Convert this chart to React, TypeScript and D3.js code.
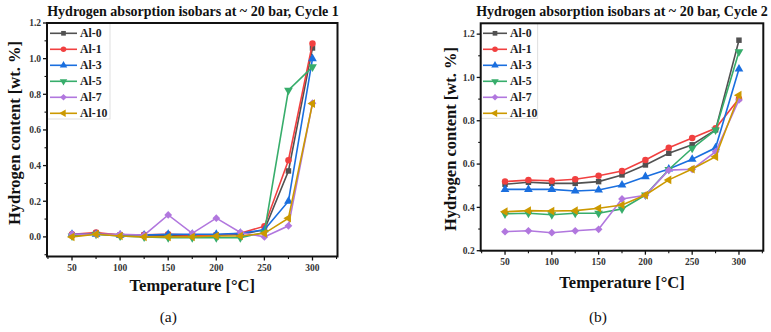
import React from "react";
import * as d3 from "d3";

// Temperatures of the isobar measurements (°C)
const temperatures = [50, 75, 100, 125, 150, 175, 200, 225, 250, 275, 300];

const seriesNames = ["Al-0", "Al-1", "Al-3", "Al-5", "Al-7", "Al-10"];
const seriesColors = ["#515151", "#F14040", "#1A6FDF", "#37AD6B", "#B177DE", "#CC9900"];

// Cycle 1 hydrogen content (wt. %)
const cycle1Al0 = [0.01, 0.02, 0.01, 0.01, 0.01, 0.01, 0.01, 0.015, 0.04, 0.37, 1.06];
const cycle1Al1 = [0.015, 0.025, 0.01, 0.012, 0.015, 0.01, 0.01, 0.02, 0.06, 0.43, 1.085];
const cycle1Al3 = [0.015, 0.015, 0.01, 0.01, 0.015, 0.015, 0.015, 0.02, 0.04, 0.2, 1.0];
const cycle1Al5 = [0.005, 0.015, 0.005, 0.0, -0.005, -0.005, -0.005, -0.005, 0.025, 0.823, 0.954];
const cycle1Al7 = [0.015, 0.015, 0.015, 0.01, 0.123, 0.02, 0.105, 0.025, 0.0, 0.062, 0.75];
const cycle1Al10 = [0.0, 0.015, 0.005, 0.0, 0.0, 0.0, 0.005, 0.005, 0.02, 0.105, 0.748];

// Cycle 2 hydrogen content (wt. %)
const cycle2Al0 = [0.507, 0.516, 0.511, 0.511, 0.519, 0.55, 0.596, 0.65, 0.689, 0.758, 1.172];
const cycle2Al1 = [0.519, 0.526, 0.523, 0.53, 0.546, 0.568, 0.619, 0.675, 0.72, 0.765, 0.902];
const cycle2Al3 = [0.483, 0.483, 0.483, 0.476, 0.48, 0.503, 0.542, 0.577, 0.622, 0.675, 1.039];
const cycle2Al5 = [0.37, 0.373, 0.366, 0.373, 0.373, 0.393, 0.457, 0.575, 0.673, 0.757, 1.119];
const cycle2Al7 = [0.288, 0.292, 0.283, 0.292, 0.299, 0.439, 0.456, 0.572, 0.576, 0.657, 0.896];
const cycle2Al10 = [0.38, 0.385, 0.383, 0.385, 0.396, 0.411, 0.457, 0.527, 0.577, 0.634, 0.918];

const cycle1 = [cycle1Al0, cycle1Al1, cycle1Al3, cycle1Al5, cycle1Al7, cycle1Al10];
const cycle2 = [cycle2Al0, cycle2Al1, cycle2Al3, cycle2Al5, cycle2Al7, cycle2Al10];

const xMajorTicks = [50, 100, 150, 200, 250, 300];
const xMinorTicks = [25, 75, 125, 175, 225, 275, 325];
const cycle1YTicks = [0.0, 0.2, 0.4, 0.6, 0.8, 1.0, 1.2];
const cycle1YMinor = [-0.1, 0.1, 0.3, 0.5, 0.7, 0.9, 1.1];
const cycle2YTicks = [0.2, 0.4, 0.6, 0.8, 1.0, 1.2];
const cycle2YMinor = [0.3, 0.5, 0.7, 0.9, 1.1];

const SERIF = "'Liberation Serif', 'DejaVu Serif', serif";

// marker shapes: square, circle, up, down, diamond, left
function markerPath(i: number, size: number): { d: string; rot: number } {
  const sq = d3.symbol().type(d3.symbolSquare).size(size)()!;
  const tri = d3.symbol().type(d3.symbolTriangle).size(size * 1.1)()!;
  const circ = d3.symbol().type(d3.symbolCircle).size(size * 1.1)()!;
  switch (i) {
    case 0: return { d: sq, rot: 0 };
    case 1: return { d: circ, rot: 0 };
    case 2: return { d: tri, rot: 0 };
    case 3: return { d: tri, rot: 180 };
    case 4: return { d: sq, rot: 45 };
    default: return { d: tri, rot: -90 };
  }
}

type PanelProps = {
  box: { x0: number; x1: number; y0: number; y1: number };
  yDomain: [number, number];
  yTicks: number[];
  yMinor: number[];
  data: number[][];
  title: string;
  titleX: number;
  yLabelX: number;
  yLabelY: number;
  xLabelY: number;
  xTickY: number;
  tag: string;
  tagY: number;
  legend: { lx0: number; lx1: number; tx: number; y0: number; w: number; h: number };
};

function Panel(p: PanelProps) {
  const { box } = p;
  const x = d3.scaleLinear().domain([24, 326]).range([box.x0, box.x1]);
  const y = d3.scaleLinear().domain(p.yDomain).range([box.y1, box.y0]);
  const line = d3.line<number>().x((_, i) => x(temperatures[i])).y((v) => y(v));
  const cx = (box.x0 + box.x1) / 2;
  return (
    <g>
      <text x={p.titleX} y={16} textAnchor="middle" fontFamily={SERIF} fontWeight="bold" fontSize={14} fill="#111">
        {p.title}
      </text>
      {/* legend */}
      <rect x={box.x0} y={box.y0} width={p.legend.w} height={p.legend.h} fill="white" stroke="#d8d8d8" strokeWidth={0.8} />
      {seriesNames.map((name, i) => {
        const ly = p.legend.y0 + i * 16;
        const m = markerPath(i, 22);
        return (
          <g key={name}>
            <line x1={p.legend.lx0} x2={p.legend.lx1} y1={ly} y2={ly} stroke={seriesColors[i]} strokeWidth={1.6} />
            <path d={m.d} transform={`translate(${(p.legend.lx0 + p.legend.lx1) / 2},${ly}) rotate(${m.rot})`} fill={seriesColors[i]} />
            <text x={p.legend.tx} y={ly + 4} fontFamily={SERIF} fontWeight="bold" fontSize={11.8} fill="#222">
              {name}
            </text>
          </g>
        );
      })}
      {/* series */}
      <g>
        {p.data.map((vals, i) => {
          const m = markerPath(i, 30);
          return (
            <g key={i}>
              <path d={line(vals)!} fill="none" stroke={seriesColors[i]} strokeWidth={1.6} />
              {vals.map((v, j) => (
                <path key={j} d={m.d} transform={`translate(${x(temperatures[j])},${y(v)}) rotate(${m.rot})`} fill={seriesColors[i]} />
              ))}
            </g>
          );
        })}
      </g>
      {/* frame */}
      <rect x={box.x0} y={box.y0} width={box.x1 - box.x0} height={box.y1 - box.y0} fill="none" stroke="#111" strokeWidth={2} />
      {/* x ticks */}
      {xMajorTicks.map((t) => (
        <g key={t}>
          <line x1={x(t)} x2={x(t)} y1={box.y1} y2={box.y1 + 4} stroke="#111" strokeWidth={1.3} />
          <text x={x(t)} y={p.xTickY} textAnchor="middle" fontFamily={SERIF} fontWeight="bold" fontSize={9.5} fill="#333">
            {t}
          </text>
        </g>
      ))}
      {xMinorTicks.map((t) => (
        <line key={t} x1={x(t)} x2={x(t)} y1={box.y1} y2={box.y1 + 2.5} stroke="#111" strokeWidth={1.1} />
      ))}
      {/* y ticks */}
      {p.yTicks.map((t) => (
        <g key={t}>
          <line x1={box.x0 - 4} x2={box.x0} y1={y(t)} y2={y(t)} stroke="#111" strokeWidth={1.3} />
          <text x={box.x0 - 6} y={y(t) + 3.3} textAnchor="end" fontFamily={SERIF} fontWeight="bold" fontSize={9.5} fill="#333">
            {d3.format(".1f")(t)}
          </text>
        </g>
      ))}
      {p.yMinor.map((t) => (
        <line key={t} x1={box.x0 - 2.5} x2={box.x0} y1={y(t)} y2={y(t)} stroke="#111" strokeWidth={1.1} />
      ))}
      {/* axis titles */}
      <text
        transform={`translate(${p.yLabelX},${p.yLabelY}) rotate(-90)`}
        textAnchor="middle"
        fontFamily={SERIF}
        fontWeight="bold"
        fontSize={16.5}
        fill="#111"
      >
        Hydrogen content [wt. %]
      </text>
      <text x={cx} y={p.xLabelY} textAnchor="middle" fontFamily={SERIF} fontWeight="bold" fontSize={16.5} fill="#111">
        Temperature [°C]
      </text>
      <text x={cx - 24} y={p.tagY} textAnchor="middle" fontFamily={SERIF} fontSize={15.5} fill="#111">
        {p.tag}
      </text>
    </g>
  );
}

export default function App() {
  return (
    <svg width={771} height={332} style={{ position: "absolute", left: 0, top: 0, background: "white" }}>
      <rect width={771} height={332} fill="white" />
      <Panel
        box={{ x0: 47, x1: 337.5, y0: 23, y1: 256.5 }}
        yDomain={[-0.11, 1.2]}
        yTicks={cycle1YTicks}
        yMinor={cycle1YMinor}
        data={cycle1}
        title="Hydrogen absorption isobars at ~ 20 bar, Cycle 1"
        titleX={193}
        yLabelX={20}
        yLabelY={133}
        xLabelY={291}
        xTickY={271}
        tag="(a)"
        tagY={322}
        legend={{ lx0: 50, lx1: 77, tx: 80, y0: 33.3, w: 63, h: 96 }}
      />
      <Panel
        box={{ x0: 480.7, x1: 763.3, y0: 23.3, y1: 250.7 }}
        yDomain={[0.2, 1.25]}
        yTicks={cycle2YTicks}
        yMinor={cycle2YMinor}
        data={cycle2}
        title="Hydrogen absorption isobars at ~ 20 bar, Cycle 2"
        titleX={622}
        yLabelX={456}
        yLabelY={139}
        xLabelY={288}
        xTickY={265}
        tag="(b)"
        tagY={322}
        legend={{ lx0: 483, lx1: 507, tx: 510, y0: 33.3, w: 57, h: 95 }}
      />
    </svg>
  );
}
